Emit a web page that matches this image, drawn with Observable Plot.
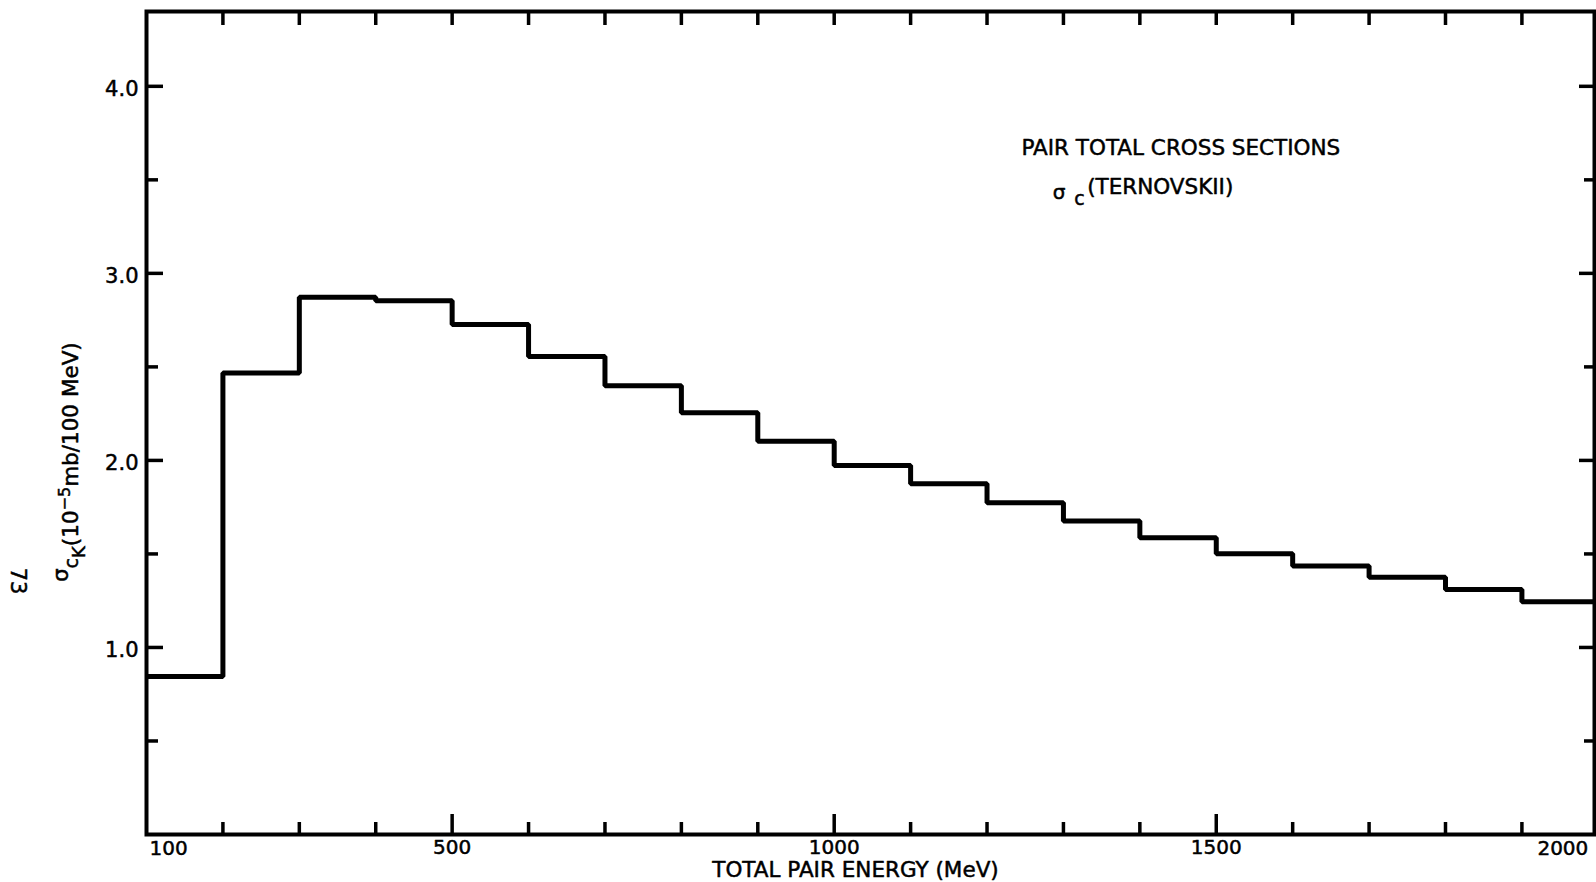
<!DOCTYPE html>
<html>
<head>
<meta charset="utf-8">
<script src="https://cdn.jsdelivr.net/npm/d3@7"></script>
<script src="https://cdn.jsdelivr.net/npm/@observablehq/plot@0.6"></script>
<style>
  html, body { margin: 0; padding: 0; background: #fff; overflow: hidden; }
  #chart svg { display: block; }
</style>
</head>
<body>
<div id="chart"></div>
<script>
// ---- data ----
const binStart = [100, 200, 300, 400, 500, 600, 700, 800, 900, 1000, 1100, 1200, 1300, 1400, 1500, 1600, 1700, 1800, 1900];
const binEnd = 2000;
const crossSection = [0.845, 2.467, 2.872, 2.854, 2.727, 2.555, 2.399, 2.255, 2.102, 1.973, 1.875, 1.774, 1.676, 1.587, 1.501, 1.435, 1.376, 1.310, 1.244];

const xMinorTicks = [200, 300, 400, 600, 700, 800, 900, 1100, 1200, 1300, 1400, 1600, 1700, 1800, 1900];
const xMajorTicks = [500, 1000, 1500];
const xTickLabels = [100, 500, 1000, 1500, 2000];
const yMajorTicks = [1.0, 2.0, 3.0, 4.0];
const yMinorTicks = [0.5, 1.5, 2.5, 3.5];
const yTickLabels = [1.0, 2.0, 3.0, 4.0];

const xTitle = "TOTAL PAIR ENERGY (MeV)";
const annotationLine1 = "PAIR TOTAL CROSS SECTIONS";
const annotationSigma = "σ";
const annotationSub = "c";
const annotationLine2 = "(TERNOVSKII)";
const pageNumber = "73";

// ---- build the step outline ----
const stepPoints = binStart.map((x, i) => ({x, y: crossSection[i]}));
stepPoints.push({x: binEnd, y: crossSection[crossSection.length - 1]});

const FONT = '"DejaVu Sans", "Liberation Sans", sans-serif';
const TXT = {fill: "#000", stroke: "#000", strokeWidth: 0.5};
const xDomain = [100, 1995];   // frame's right edge sits just short of 2000 (page edge)
const yDomain = [0, 4.4];
const allXTicks = xMinorTicks.concat(xMajorTicks);

const plot = Plot.plot({
  width: 1596,
  height: 882,
  marginLeft: 146,
  marginRight: 2,
  marginTop: 11,
  marginBottom: 48,
  x: {domain: xDomain, axis: null},
  y: {domain: yDomain, axis: null},
  style: {fontFamily: FONT, background: "#fff", color: "#000", overflow: "visible"},
  marks: [
    Plot.frame({stroke: "#000", strokeWidth: 4}),
    // bottom ticks (inward)
    Plot.ruleX(xMinorTicks, {x: d => d, y1: yDomain[0], y2: yDomain[0], insetTop: -12, stroke: "#000", strokeWidth: 3.5}),
    Plot.ruleX(xMajorTicks, {x: d => d, y1: yDomain[0], y2: yDomain[0], insetTop: -20, stroke: "#000", strokeWidth: 3.5}),
    // top ticks (inward)
    Plot.ruleX(allXTicks, {x: d => d, y1: yDomain[1], y2: yDomain[1], insetBottom: -14, stroke: "#000", strokeWidth: 3.5}),
    // left ticks
    Plot.ruleY(yMajorTicks, {y: d => d, x1: xDomain[0], x2: xDomain[0], insetRight: -17, stroke: "#000", strokeWidth: 3.5}),
    Plot.ruleY(yMinorTicks, {y: d => d, x1: xDomain[0], x2: xDomain[0], insetRight: -12, stroke: "#000", strokeWidth: 3.5}),
    // right ticks
    Plot.ruleY(yMajorTicks, {y: d => d, x1: xDomain[1], x2: xDomain[1], insetLeft: -15, stroke: "#000", strokeWidth: 3.5}),
    Plot.ruleY(yMinorTicks, {y: d => d, x1: xDomain[1], x2: xDomain[1], insetLeft: -10, stroke: "#000", strokeWidth: 3.5}),
    // the histogram step line
    Plot.line(stepPoints, {x: "x", y: "y", curve: "step-after", stroke: "#000", strokeWidth: 5, strokeLinejoin: "miter", strokeLinecap: "butt", clip: true}),
    // x tick labels
    Plot.text(xTickLabels.filter(v => v !== xTickLabels[0] && v !== xTickLabels[xTickLabels.length - 1]), {
      x: d => d, frameAnchor: "bottom", dy: 13, lineAnchor: "middle", text: d => String(d), fontSize: 20, ...TXT
    }),
    Plot.text([xTickLabels[0]], {x: d => d, frameAnchor: "bottom", dy: 14, dx: 3, lineAnchor: "middle", textAnchor: "start", text: d => String(d), fontSize: 20, ...TXT}),
    Plot.text([xTickLabels[xTickLabels.length - 1]], {x: d => d, frameAnchor: "bottom", dy: 14, dx: -10, lineAnchor: "middle", textAnchor: "end", text: d => String(d), fontSize: 20, ...TXT}),
    // y tick labels
    Plot.text(yTickLabels, {y: d => d, frameAnchor: "left", dx: -8, dy: 3, textAnchor: "end", lineAnchor: "middle", text: d => d.toFixed(1), fontSize: 21, ...TXT}),
    // x title
    Plot.text([xTitle], {frameAnchor: "bottom", dx: -15, dy: 36, lineAnchor: "middle", text: d => d, fontSize: 21.5, ...TXT}),
    // annotation
    Plot.text([annotationLine1], {x: 1245, y: 3.667, textAnchor: "start", lineAnchor: "middle", text: d => d, fontSize: 21.5, ...TXT}),
    Plot.text([annotationSigma], {x: 1286, y: 3.43, textAnchor: "start", lineAnchor: "middle", text: d => d, fontSize: 20, ...TXT}),
    Plot.text([annotationSub], {x: 1314, y: 3.40, textAnchor: "start", lineAnchor: "middle", text: d => d, fontSize: 19, ...TXT}),
    Plot.text([annotationLine2], {x: 1331, y: 3.463, textAnchor: "start", lineAnchor: "middle", text: d => d, fontSize: 21.5, ...TXT})
  ]
});

document.getElementById("chart").appendChild(plot);

// ---- rotated y-axis title with sub/superscripts, and the page number ----
const svg = d3.select(plot);
const yt = svg.append("text")
  .attr("transform", "translate(78,462) rotate(-90)")
  .attr("text-anchor", "middle")
  .attr("font-family", FONT)
  .attr("font-size", 21.5)
  .attr("fill", "#000")
  .attr("stroke", "#000")
  .attr("stroke-width", 0.5);
yt.append("tspan").attr("dy", -10).attr("font-size", 21).text("σ");
yt.append("tspan").attr("dy", 10).attr("font-size", 19).text("c");
yt.append("tspan").attr("dy", 7).attr("font-size", 18).text("K");
yt.append("tspan").attr("dy", -7).text("(10");
yt.append("tspan").attr("dy", -8).attr("font-size", 16).text("−5");
yt.append("tspan").attr("dy", 8).text("mb/100 MeV)");

svg.append("text")
  .attr("transform", "translate(18,581) rotate(90)")
  .attr("text-anchor", "middle")
  .attr("dominant-baseline", "central")
  .attr("font-family", FONT)
  .attr("font-size", 21)
  .attr("fill", "#000")
  .attr("stroke", "#000")
  .attr("stroke-width", 0.5)
  .text(pageNumber);
</script>
</body>
</html>
